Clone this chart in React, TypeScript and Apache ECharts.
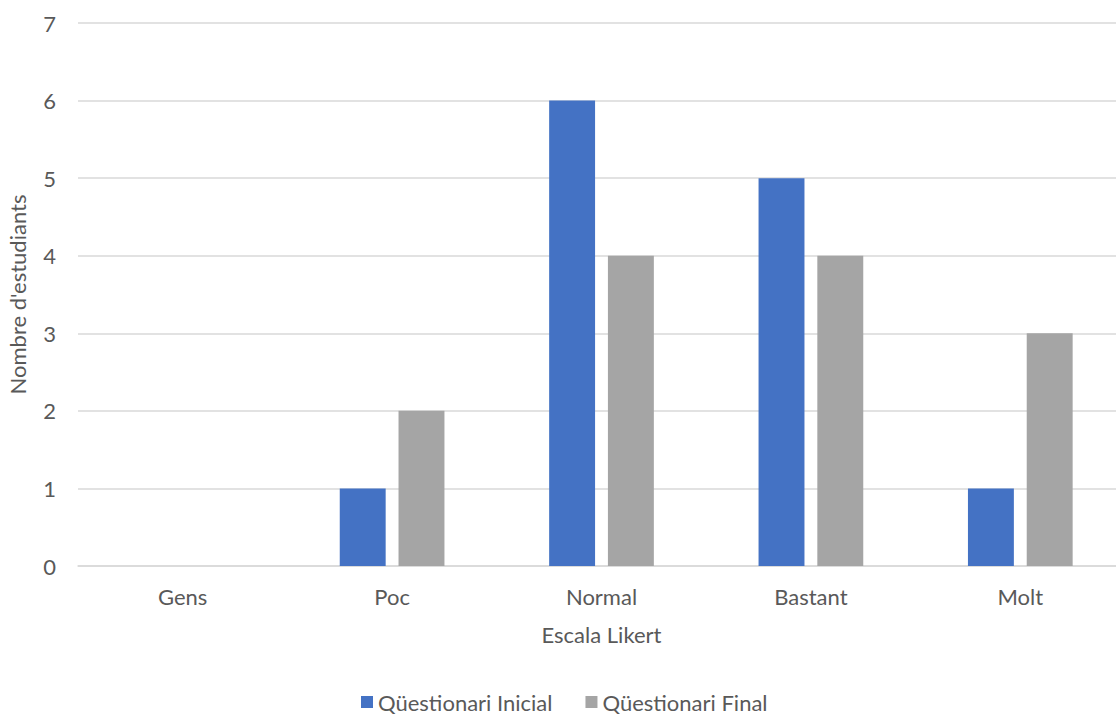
import React, { useEffect, useRef } from "react";
import * as echarts from "echarts";

const categories = ["Gens", "Poc", "Normal", "Bastant", "Molt"];
const inicial = [0, 1, 6, 5, 1];
const final = [0, 2, 4, 4, 3];
const seriesNames = ["Qüestionari Inicial", "Qüestionari Final"];
const xTitle = "Escala Likert";
const yTitle = "Nombre d'estudiants";

const FONT = "Lato, 'Open Sans', sans-serif";
const FS = 22;

export default function App() {
  const ref = useRef<HTMLDivElement>(null);
  useEffect(() => {
    if (!ref.current) return;
    const chart = echarts.init(ref.current, undefined, { renderer: "svg" });
    chart.setOption({
      animation: false,
      backgroundColor: "#ffffff",
      textStyle: { fontFamily: FONT },
      grid: {
        left: 78,
        top: 23,
        bottom: 149,
        width: 1047,
        containLabel: false,
        outerBoundsMode: "none",
      },
      legend: {
        left: 356,
        bottom: -3,
        itemWidth: 12,
        itemHeight: 12,
        itemGap: 33,
        icon: "rect",
        textStyle: { fontFamily: FONT, fontSize: FS, color: "#595959" },
        data: seriesNames,
      },
      xAxis: {
        type: "category",
        data: categories,
        name: xTitle,
        nameLocation: "middle",
        nameGap: 57,
        nameTextStyle: { fontFamily: FONT, fontSize: FS, color: "#595959" },
        axisLine: { show: true, lineStyle: { color: "#d9d9d9", width: 1.5 } },
        axisTick: { show: false },
        axisLabel: { margin: 19, fontFamily: FONT, fontSize: FS, color: "#595959" },
      },
      yAxis: {
        type: "value",
        min: 0,
        max: 7,
        interval: 1,
        name: yTitle,
        nameLocation: "middle",
        nameGap: 50,
        nameTextStyle: { fontFamily: FONT, fontSize: FS, color: "#595959" },
        axisLine: { show: false },
        axisTick: { show: false },
        axisLabel: { margin: 22, fontFamily: FONT, fontSize: FS, color: "#595959" },
        splitLine: { lineStyle: { color: "#d9d9d9", width: 1.5 } },
      },
      series: [
        {
          name: seriesNames[0],
          type: "bar",
          data: inicial,
          barGap: "28%",
          barCategoryGap: "50%",
          itemStyle: { color: "#4472c4" },
        },
        {
          name: seriesNames[1],
          type: "bar",
          data: final,
          barGap: "28%",
          barCategoryGap: "50%",
          itemStyle: { color: "#a5a5a5" },
        },
      ],
    });
    return () => chart.dispose();
  }, []);
  return (
    <div
      ref={ref}
      style={{ position: "fixed", left: 0, top: 0, width: 1116, height: 715, background: "#fff" }}
    />
  );
}
